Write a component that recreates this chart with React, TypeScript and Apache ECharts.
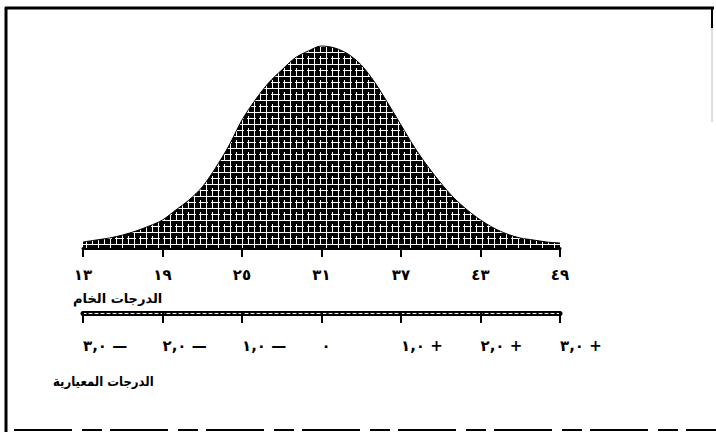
import React, { useEffect, useRef } from "react";
import * as echarts from "echarts";

// Raw scores (x categories) and curve heights
const rawScores = [13, 14, 15, 16, 17, 18, 19, 20, 21, 22, 23, 24, 25, 26, 27, 28, 29, 30, 31, 32, 33, 34, 35, 36, 37, 38, 39, 40, 41, 42, 43, 44, 45, 46, 47, 48, 49];
const curveHeights = [6, 8, 10, 13, 17, 22, 28, 38, 48, 61, 80, 102, 128, 148, 165, 178, 190, 197, 202, 200, 194, 183, 166, 145, 123, 101, 82, 65, 50, 38, 28, 20, 14, 10, 8, 6, 5];

// Tick labels
const rawTickLabels = ["١٣", "١٩", "٢٥", "٣١", "٣٧", "٤٣", "٤٩"];
const zTickValues = [-3, -2, -1, 0, 1, 2, 3];
const zTickLabels = ["٣,٠ —", "٢,٠ —", "١,٠ —", "٠", "١,٠ +", "٢,٠ +", "٣,٠ +"];
const rawAxisTitle = "الدرجات الخام";
const zAxisTitle = "الدرجات المعيارية";

function makePattern() {
  const c = document.createElement("canvas");
  c.width = 12;
  c.height = 12;
  const g = c.getContext("2d")!;
  g.fillStyle = "#000";
  g.fillRect(0, 0, 12, 12);
  g.fillStyle = "#fff";
  g.fillRect(2, 0, 1, 12);
  g.fillRect(8, 0, 1, 12);
  g.fillRect(0, 4, 12, 1);
  g.fillRect(0, 10, 12, 1);
  g.fillStyle = "#000";
  g.fillRect(8, 5, 1, 3);
  g.fillRect(4, 10, 3, 1);
  return c.toDataURL();
}

export default function App() {
  const ref = useRef<HTMLDivElement>(null);
  useEffect(() => {
    if (!ref.current) return;
    const chart = echarts.init(ref.current, undefined, { renderer: "svg" });
    const font = "DejaVu Sans";
    const option: any = {
      animation: false,
      backgroundColor: "#fff",
      grid: [
        { left: 83, right: 156, top: 45, bottom: 184 },
        { left: 83, right: 156, top: 313, height: 0 },
      ],
      xAxis: [
        {
          type: "category",
          gridIndex: 0,
          data: rawScores.map(String),
          boundaryGap: false,
          axisLine: { lineStyle: { color: "#000", width: 3 } },
          axisTick: { interval: 5, length: 9, lineStyle: { color: "#000", width: 2 } },
          axisLabel: {
            interval: 5,
            margin: 19,
            color: "#000",
            fontFamily: font,
            fontWeight: "bold",
            fontSize: 15,
            formatter: (_v: string, i: number) => rawTickLabels[i / 6] ?? "",
          },
          splitLine: { show: false },
        },
        {
          type: "value",
          gridIndex: 1,
          position: "bottom",
          min: -3,
          max: 3,
          interval: 1,
          axisLine: { onZero: false, lineStyle: { color: "#000", width: 5 } },
          axisTick: { length: 10, lineStyle: { color: "#000", width: 2 } },
          axisLabel: {
            margin: 25,
            color: "#000",
            fontFamily: font,
            fontWeight: "bold",
            fontSize: 15,
            align: "left",
            formatter: (v: number) => zTickLabels[zTickValues.indexOf(v)] ?? "",
          },
          splitLine: { show: false },
        },
        {
          type: "value",
          gridIndex: 1,
          position: "top",
          min: -3,
          max: 3,
          interval: 1,
          axisLine: { onZero: false, lineStyle: { color: "#fff", width: 1, type: [3, 3] } },
          axisTick: { show: false },
          axisLabel: { show: false },
          splitLine: { show: false },
        },
      ],
      yAxis: [
        { type: "value", gridIndex: 0, min: 0, max: 203, show: false },
        { type: "value", gridIndex: 1, min: 0, max: 1, show: false },
      ],
      series: [
        {
          type: "line",
          xAxisIndex: 0,
          yAxisIndex: 0,
          data: curveHeights,
          smooth: 0.3,
          symbol: "none",
          lineStyle: { color: "#000", width: 1 },
          areaStyle: {
            color: { image: makePattern(), repeat: "repeat", imageWidth: 12, imageHeight: 12 },
            opacity: 1,
          },
        },
        {
          type: "scatter",
          xAxisIndex: 1,
          yAxisIndex: 1,
          data: [],
        },
      ],
      graphic: [
        // frame
        { type: "line", shape: { x1: 6, y1: 7, x2: 6, y2: 432 }, style: { stroke: "#000", lineWidth: 3 } },
        { type: "line", shape: { x1: 5, y1: 8, x2: 714, y2: 8 }, style: { stroke: "#000", lineWidth: 3 } },
        { type: "line", shape: { x1: 712, y1: 8, x2: 712, y2: 28 }, style: { stroke: "#000", lineWidth: 2 } },
        { type: "line", shape: { x1: 712, y1: 28, x2: 712, y2: 122 }, style: { stroke: "#bbb", lineWidth: 1 } },
        { type: "line", shape: { x1: 14, y1: 430, x2: 716, y2: 430 }, style: { stroke: "#000", lineWidth: 2, lineDash: [58, 10, 20, 8] } },
        // axis titles
        {
          type: "text",
          left: 73,
          top: 292,
          style: { text: rawAxisTitle, fill: "#000", font: `bold 13px "${font}"` },
        },
        {
          type: "text",
          left: 53,
          top: 375,
          style: { text: zAxisTitle, fill: "#000", font: `bold 13px "DejaVu Sans Condensed", "${font}"` },
        },
      ],
    };
    chart.setOption(option);
    return () => chart.dispose();
  }, []);
  return (
    <div
      ref={ref}
      style={{ position: "fixed", left: 0, top: 0, width: 716, height: 432 }}
    />
  );
}
